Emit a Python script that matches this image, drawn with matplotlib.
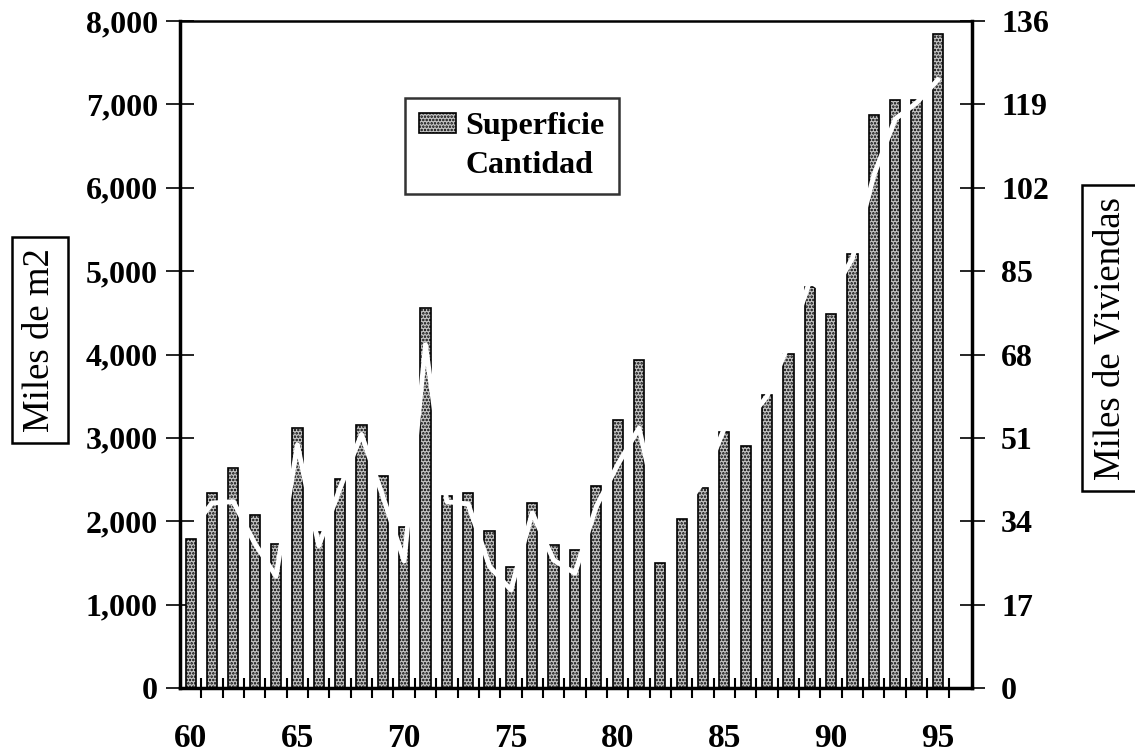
import matplotlib.pyplot as plt
import numpy as np

plt.rcParams['font.family'] = ['Liberation Serif', 'DejaVu Serif']
plt.rcParams['hatch.linewidth'] = 1.2

years = list(range(60, 96))
superficie = [1786, 2339, 2639, 2074, 1730, 3120, 1877, 2507, 3159, 2538,
              1930, 4561, 2306, 2339, 1878, 1450, 2218, 1718, 1650, 2418,
              3219, 3932, 1505, 2026, 2399, 3067, 2907, 3513, 4010, 4810,
              4490, 5200, 6870, 7055, 7055, 7850]
cantidad = [32, 37.7, 38, 29.5, 22.8, 49.6, 29, 40.8, 51.7, 39.1,
            25.9, 70, 38, 37.5, 24.8, 20, 35.7, 26.1, 23.4, 37,
            45.5, 53, 34, 36, 42, 53, 54, 59.5, 70, 83,
            80, 87.6, 104.5, 116, 119.3, 124]
xlabels = ['60', '65', '70', '75', '80', '85', '90', '95']

fig = plt.figure(figsize=(11.35, 7.54), dpi=100)
ax = fig.add_axes([180 / 1135, 66 / 754, 792 / 1135, 667 / 754])

ax.bar(years, superficie, width=0.48, color='#c4c4c4', edgecolor='black',
       linewidth=1.2, hatch='.....', label='Superficie', zorder=2)

ax.set_xlim(59.5, 96.6)
ax.set_ylim(0, 8000)
ax.set_yticks(np.arange(0, 8001, 1000))
ax.set_yticklabels(['{:,}'.format(v) for v in range(0, 8001, 1000)])
ax.set_xticks([int(s) for s in xlabels])
ax.set_xticklabels(xlabels)
ax.set_xticks(np.arange(60.5, 96, 1), minor=True)
ax.tick_params(axis='x', which='major', length=0, labelsize=24, pad=25)
ax.tick_params(axis='x', which='minor', direction='inout', length=14,
               width=1.5)
ax.tick_params(axis='y', direction='inout', length=20, width=1.2,
               labelsize=23, pad=6)
for lab in ax.get_xticklabels() + ax.get_yticklabels():
    lab.set_fontweight('bold')

for side in ['left', 'bottom']:
    ax.spines[side].set_linewidth(2.5)
ax.spines['top'].set_linewidth(1.8)
ax.spines['right'].set_visible(False)

ax2 = ax.twinx()
ax2.plot(years, cantidad, color='white', linewidth=3.5, label='Cantidad',
         zorder=3)
ax2.set_ylim(0, 136)
ax2.set_yticks(np.arange(0, 137, 17))
ax2.tick_params(axis='y', direction='inout', length=18, width=1.2,
                labelsize=23, pad=12)
for lab in ax2.get_yticklabels():
    lab.set_fontweight('bold')
ax2.spines['right'].set_linewidth(2.5)
for side in ['left', 'bottom', 'top']:
    ax2.spines[side].set_visible(False)

h1, l1 = ax.get_legend_handles_labels()
h2, l2 = ax2.get_legend_handles_labels()
leg = ax2.legend(h1 + h2, l1 + l2, loc='upper left',
                 bbox_to_anchor=(405 / 1135, 1 - 98 / 754),
                 bbox_transform=fig.transFigure, borderaxespad=0,
                 prop={'size': 23, 'weight': 'bold'},
                 frameon=True, fancybox=False, edgecolor='black',
                 handlelength=1.15, handleheight=0.56, handletextpad=0.3,
                 borderpad=0.45, labelspacing=0.3)
leg.get_frame().set_linewidth(1.8)

fig.text(40 / 1135, 1 - 340 / 754, 'Miles de m2', rotation=90,
         fontsize=26.5, ha='center', va='center',
         bbox=dict(boxstyle='square,pad=0.3', fc='white', ec='black', lw=1.8))
fig.text(1110 / 1135, 1 - 338 / 754, 'Miles de Viviendas', rotation=90,
         fontsize=26.5, ha='center', va='center',
         bbox=dict(boxstyle='square,pad=0.3', fc='white', ec='black', lw=1.8))

fig.savefig('out.png', dpi=100)
